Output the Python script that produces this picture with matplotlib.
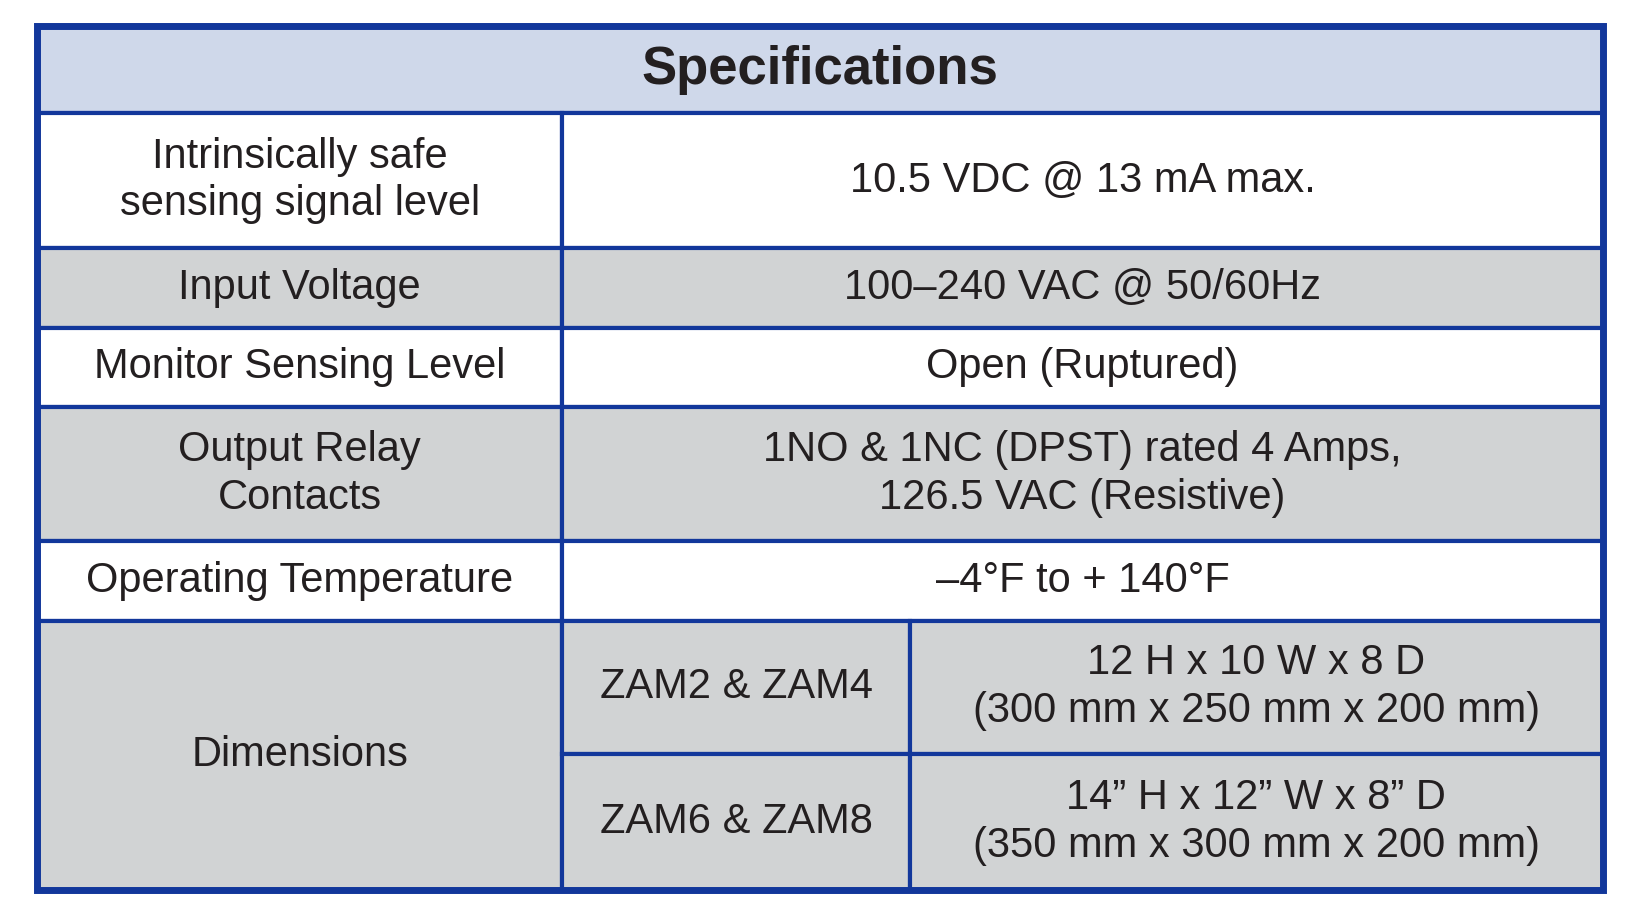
import matplotlib.pyplot as plt
from matplotlib.patches import Rectangle

title = "Specifications"
labels = ["Intrinsically safe\nsensing signal level", "Input Voltage", "Monitor Sensing Level",
          "Output Relay\nContacts", "Operating Temperature", "Dimensions"]
values = ["10.5 VDC @ 13 mA max.", "100\u2013240 VAC @ 50/60Hz", "Open (Ruptured)",
          "1NO & 1NC (DPST) rated 4 Amps,\n126.5 VAC (Resistive)", "\u20134\u00b0F to + 140\u00b0F"]
models = ["ZAM2 & ZAM4", "ZAM6 & ZAM8"]
dims = ["12 H x 10 W x 8 D\n(300 mm x 250 mm x 200 mm)",
        "14\u201d H x 12\u201d W x 8\u201d D\n(350 mm x 300 mm x 200 mm)"]

# layout in reference pixel coords (displayed scale)
W, H = 1560, 877
x0, x1, x2, x3 = 35, 537, 869, 1530
rows = [25, 108, 237, 313, 389, 517, 593, 720, 850]
blue = "#12379b"
grey = "#d1d3d4"
head = "#cfd8ea"
fs = 30

plt.rcParams['font.family'] = ['Liberation Sans', 'DejaVu Sans']
fig = plt.figure(figsize=(16.34, 9.18), dpi=100)
ax = fig.add_axes([0, 0, 1, 1])
ax.set_xlim(0, W)
ax.set_ylim(H, 0)
ax.axis('off')

def cell(xa, xb, ya, yb, color, text, **kw):
    ax.add_patch(Rectangle((xa, ya), xb - xa, yb - ya, facecolor=color, edgecolor=blue, lw=3))
    ax.text((xa + xb) / 2, (ya + yb) / 2, text, ha='center', va='center', fontsize=kw.get('size', fs),
            fontweight=kw.get('weight', 'normal'), color='#231f20', linespacing=1.25)

cell(x0, x3, rows[0], rows[1], head, title, size=38, weight='bold')
for i in range(5):
    c = grey if i % 2 == 1 else "white"
    cell(x0, x1, rows[i + 1], rows[i + 2], c, labels[i])
    cell(x1, x3, rows[i + 1], rows[i + 2], c, values[i])
cell(x0, x1, rows[6], rows[8], grey, labels[5])
for j in range(2):
    cell(x1, x2, rows[6 + j], rows[7 + j], grey, models[j])
    cell(x2, x3, rows[6 + j], rows[7 + j], grey, dims[j])
ax.add_patch(Rectangle((x0, rows[0]), x3 - x0, rows[-1] - rows[0], fill=False, edgecolor=blue, lw=5))

fig.savefig("out.png", dpi=100)
